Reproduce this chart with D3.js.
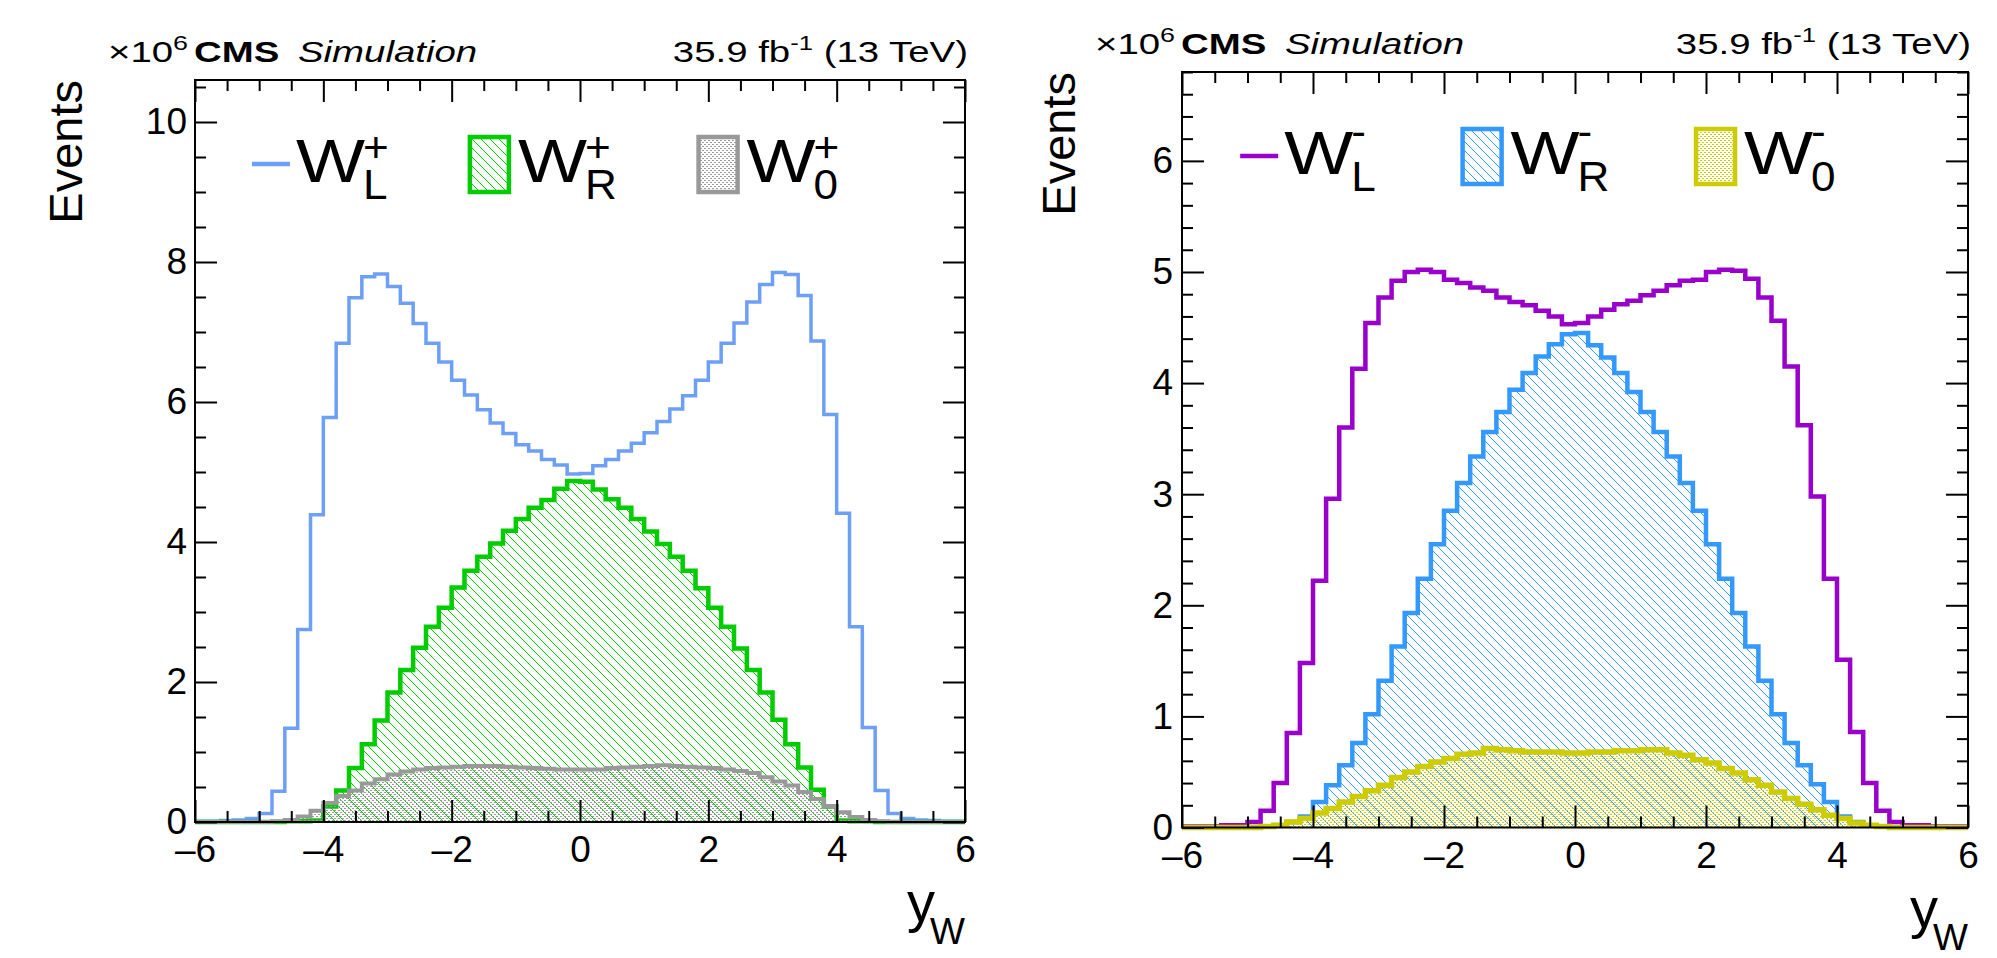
<!DOCTYPE html>
<html>
<head>
<meta charset="utf-8">
<title>W helicity templates vs y_W</title>
<script src="https://cdn.jsdelivr.net/npm/d3@7"></script>
<style>
  body { margin: 0; background: #fff; }
  svg { display: block; font-family: 'Liberation Sans', Arial, Helvetica, sans-serif; }
  .frame { fill: none; stroke: #000; stroke-width: 2; }
  .tick line { stroke: #000; stroke-width: 2; }
  .tick text { font-size: 37px; fill: #000; }
  .hist { fill: none; stroke-linejoin: miter; }
</style>
</head>
<body>
<svg id="chart" width="1997" height="958"></svg>
<script>
// y_W binning: 60 bins of width 0.2 between -6 and 6
var binEdges = d3.range(61).map(function(i) { return -6 + i * 0.2; });

// events per bin, x10^6 (W+)
var wLplus = [0.01, 0.01, 0.02, 0.03, 0.05, 0.12, 0.44, 1.34, 2.75, 4.39,
              5.78, 6.84, 7.49, 7.79, 7.83, 7.65, 7.41, 7.12, 6.84, 6.57,
              6.31, 6.10, 5.89, 5.70, 5.55, 5.39, 5.30, 5.18, 5.10, 4.97,
              4.98, 5.09, 5.18, 5.30, 5.41, 5.56, 5.72, 5.90, 6.09, 6.31,
              6.57, 6.84, 7.13, 7.43, 7.68, 7.85, 7.82, 7.52, 6.87, 5.82,
              4.41, 2.79, 1.35, 0.45, 0.12, 0.05, 0.03, 0.02, 0.01, 0.01];
var wRplus = [0, 0, 0, 0, 0, 0, 0, 0.01, 0.01, 0.02,
              0.22, 0.45, 0.77, 1.11, 1.45, 1.85, 2.17, 2.49, 2.79, 3.06,
              3.35, 3.59, 3.79, 3.98, 4.16, 4.33, 4.49, 4.60, 4.76, 4.87,
              4.86, 4.75, 4.61, 4.49, 4.33, 4.15, 3.97, 3.79, 3.59, 3.34,
              3.06, 2.79, 2.48, 2.17, 1.85, 1.46, 1.11, 0.78, 0.46, 0.22,
              0.02, 0.01, 0.01, 0, 0, 0, 0, 0, 0, 0];
var w0plus = [0, 0, 0, 0, 0, 0, 0.01, 0.03, 0.08, 0.16,
              0.27, 0.37, 0.45, 0.55, 0.61, 0.68, 0.72, 0.75, 0.77, 0.78,
              0.79, 0.80, 0.80, 0.80, 0.79, 0.78, 0.77, 0.76, 0.75, 0.75,
              0.75, 0.75, 0.77, 0.78, 0.79, 0.80, 0.81, 0.80, 0.79, 0.78,
              0.77, 0.75, 0.73, 0.70, 0.64, 0.58, 0.52, 0.43, 0.33, 0.23,
              0.14, 0.07, 0.03, 0.01, 0, 0, 0, 0, 0, 0];

// events per bin, x10^6 (W-)
var wLminus = [0.01, 0.01, 0.01, 0.02, 0.02, 0.05, 0.15, 0.40, 0.85, 1.48,
               2.22, 2.96, 3.60, 4.13, 4.54, 4.77, 4.92, 5.00, 5.02, 5.00,
               4.93, 4.90, 4.86, 4.83, 4.77, 4.73, 4.70, 4.65, 4.60, 4.53,
               4.54, 4.60, 4.66, 4.71, 4.74, 4.79, 4.83, 4.88, 4.92, 4.93,
               5.00, 5.02, 5.01, 4.94, 4.77, 4.56, 4.15, 3.62, 2.98, 2.24,
               1.51, 0.86, 0.40, 0.15, 0.05, 0.02, 0.02, 0.01, 0.01, 0.01];
var wRminus = [0, 0, 0, 0, 0, 0, 0.01, 0.02, 0.05, 0.10,
               0.23, 0.38, 0.56, 0.76, 1.02, 1.32, 1.63, 1.93, 2.24, 2.55,
               2.85, 3.10, 3.34, 3.56, 3.74, 3.94, 4.09, 4.24, 4.35, 4.44,
               4.45, 4.34, 4.23, 4.09, 3.92, 3.74, 3.56, 3.34, 3.10, 2.85,
               2.55, 2.24, 1.93, 1.63, 1.32, 1.02, 0.76, 0.56, 0.39, 0.23,
               0.10, 0.05, 0.02, 0.01, 0, 0, 0, 0, 0, 0];
var w0minus = [0, 0, 0, 0, 0, 0, 0.01, 0.02, 0.05, 0.08,
               0.13, 0.17, 0.23, 0.28, 0.33, 0.38, 0.45, 0.50, 0.55, 0.59,
               0.62, 0.66, 0.67, 0.71, 0.70, 0.69, 0.68, 0.68, 0.68, 0.67,
               0.67, 0.68, 0.68, 0.69, 0.69, 0.70, 0.70, 0.67, 0.65, 0.61,
               0.58, 0.53, 0.49, 0.43, 0.38, 0.32, 0.26, 0.21, 0.16, 0.11,
               0.08, 0.04, 0.02, 0.01, 0, 0, 0, 0, 0, 0];

var xTicks = [-6, -4, -2, 0, 2, 4, 6];

var panels = [
  {
    box: { left: 195, right: 965, top: 80, bottom: 822 },
    yMax: 10.6, yMajor: 2, yMinor: 0.5,
    titleY: 62, eventsX: 82,
    sign: '+', signRaise: 20,
    series: [
      { values: wLplus, sub: 'L', color: '#6e9ff7', width: 3.5, fill: null },
      { values: wRplus, sub: 'R', color: '#00cc00', width: 4.5, fill: 'hatch' },
      { values: w0plus, sub: '0', color: '#999999', width: 4, fill: 'dots' }
    ]
  },
  {
    box: { left: 1182, right: 1968, top: 72, bottom: 827.5 },
    yMax: 6.8, yMajor: 1, yMinor: 0.2,
    titleY: 54, eventsX: 1075,
    sign: '-', signRaise: 28,
    series: [
      { values: wLminus, sub: 'L', color: '#9900cc', width: 4.5, fill: null },
      { values: wRminus, sub: 'R', color: '#3399ff', width: 4.5, fill: 'hatch' },
      { values: w0minus, sub: '0', color: '#cccc00', width: 5.5, fill: 'dots' }
    ]
  }
];

var svg = d3.select('#chart');
var defs = svg.append('defs');

function makePatterns(id, color) {
  var h = defs.append('pattern')
    .attr('id', 'hatch-' + id)
    .attr('patternUnits', 'userSpaceOnUse')
    .attr('width', 9).attr('height', 9);
  h.append('path')
    .attr('d', 'M0,0 L9,9 M-1,8 L1,10 M8,-1 L10,1')
    .attr('stroke', color).attr('stroke-width', 1);

  var d = defs.append('pattern')
    .attr('id', 'dots-' + id)
    .attr('patternUnits', 'userSpaceOnUse')
    .attr('width', 4).attr('height', 4);
  d.append('rect').attr('x', 0).attr('y', 0).attr('width', 2).attr('height', 1).attr('fill', color);
  d.append('rect').attr('x', 2).attr('y', 2).attr('width', 2).attr('height', 1).attr('fill', color);
}

// text helper: horizontal stretch to match the original's wide glyphs
function label(g, x, y, size, sx) {
  return g.append('text')
    .attr('transform', 'translate(' + x + ',' + y + ') scale(' + sx + ',1)')
    .style('font-size', size + 'px');
}

function stepPoints(values) {
  var pts = [];
  values.forEach(function(v, i) {
    pts.push([binEdges[i], v]);
    pts.push([binEdges[i + 1], v]);
  });
  return pts;
}

panels.forEach(function(p, pi) {
  var b = p.box;
  var w = b.right - b.left;
  var g = svg.append('g');

  var x = d3.scaleLinear().domain([-6, 6]).range([b.left, b.right]);
  var y = d3.scaleLinear().domain([0, p.yMax]).range([b.bottom, b.top]);

  p.series.forEach(function(s, si) {
    makePatterns(pi + '-' + si, s.color);
  });

  var line = d3.line().x(function(d) { return x(d[0]); }).y(function(d) { return y(d[1]); });
  var area = d3.area().x(function(d) { return x(d[0]); }).y0(y(0)).y1(function(d) { return y(d[1]); });

  // histograms, drawn in legend order
  p.series.forEach(function(s, si) {
    var pts = stepPoints(s.values);
    if (s.fill) {
      g.append('path')
        .attr('d', area(pts))
        .attr('fill', 'url(#' + s.fill + '-' + pi + '-' + si + ')');
    }
    g.append('path')
      .attr('class', 'hist')
      .attr('d', line(pts))
      .attr('stroke', s.color)
      .attr('stroke-width', s.width);
  });

  // ticks on all four sides, pointing inwards
  var yMajors = d3.range(0, p.yMax + 1e-9, p.yMajor);
  var yMinors = d3.range(0, p.yMax + 1e-9, p.yMinor).filter(function(v) {
    return Math.abs(v / p.yMajor - Math.round(v / p.yMajor)) > 1e-6;
  });
  var xMinors = d3.range(-6, 6.0001, 0.5).filter(function(v) { return v % 2 !== 0; });

  function ticks(axis, tx, ty, vals, len, fmt) {
    var a = g.append('g')
      .attr('transform', 'translate(' + tx + ',' + ty + ')')
      .call(axis.tickValues(vals).tickSizeInner(-len).tickSizeOuter(0).tickFormat(fmt || ''));
    a.select('.domain').remove();
    return a;
  }

  ticks(d3.axisLeft(y).tickPadding(8 + pi), b.left, 0, yMajors, 22, d3.format('d'));
  ticks(d3.axisLeft(y), b.left, 0, yMinors, 11);
  ticks(d3.axisRight(y), b.right, 0, yMajors, 22);
  ticks(d3.axisRight(y), b.right, 0, yMinors, 11);

  ticks(d3.axisBottom(x).tickPadding(14), 0, b.bottom, xTicks, 22, function(v) {
    return v < 0 ? '\u2013' + Math.abs(v) : String(v);
  });
  ticks(d3.axisBottom(x), 0, b.bottom, xMinors, 11);
  ticks(d3.axisTop(x), 0, b.top, xTicks, 22);
  ticks(d3.axisTop(x), 0, b.top, xMinors, 11);

  g.append('rect').attr('class', 'frame')
    .attr('x', b.left).attr('y', b.top)
    .attr('width', w).attr('height', b.bottom - b.top);

  // axis titles
  g.append('text')
    .attr('transform', 'translate(' + p.eventsX + ',' + b.top + ') rotate(-90)')
    .attr('text-anchor', 'end')
    .style('font-size', '47px')
    .text('Events');
  label(g, b.right - 58, b.bottom + 99, 56, 1).text('y');
  label(g, b.right - 35, b.bottom + 122, 37, 1).text('W');

  // header
  var hx = label(g, b.left - 87, p.titleY, 30, 1.28);
  hx.append('tspan').text('\u00d710');
  hx.append('tspan').attr('dy', -12).style('font-size', '21px').text('6');
  label(g, b.left - 1, p.titleY, 30, 1.28).style('font-weight', 'bold').text('CMS');
  label(g, b.left + 103, p.titleY, 30, 1.28).style('font-style', 'italic').text('Simulation');
  var lumi = label(g, b.right + 3, p.titleY, 30, 1.28).attr('text-anchor', 'end');
  lumi.append('tspan').text('35.9 fb');
  lumi.append('tspan').attr('dy', -12).style('font-size', '20px').text('-1');
  lumi.append('tspan').attr('dy', 12).text(' (13 TeV)');

  // legend
  var legY = b.top + 57;
  var legX = [0.074, 0.357, 0.654];
  p.series.forEach(function(s, si) {
    var x0 = b.left + legX[si] * w;
    var tx;
    if (s.fill) {
      g.append('rect')
        .attr('x', x0).attr('y', legY)
        .attr('width', 39).attr('height', 55)
        .attr('fill', 'url(#' + s.fill + '-' + pi + '-' + si + ')')
        .attr('stroke', s.color).attr('stroke-width', 4.5);
      tx = x0 + 48;
    } else {
      g.append('line')
        .attr('x1', x0).attr('x2', x0 + 38)
        .attr('y1', legY + 27).attr('y2', legY + 27)
        .attr('stroke', s.color).attr('stroke-width', 4.5);
      tx = x0 + 44;
    }
    var base = legY + 45;
    label(g, tx, base, 62, 1.18).text('W');
    label(g, tx + 67, base + 17, 42, 1.05).text(s.sub);
    label(g, tx + 67, base - p.signRaise, 42, 1.05).text(p.sign);
  });
});
</script>
</body>
</html>
